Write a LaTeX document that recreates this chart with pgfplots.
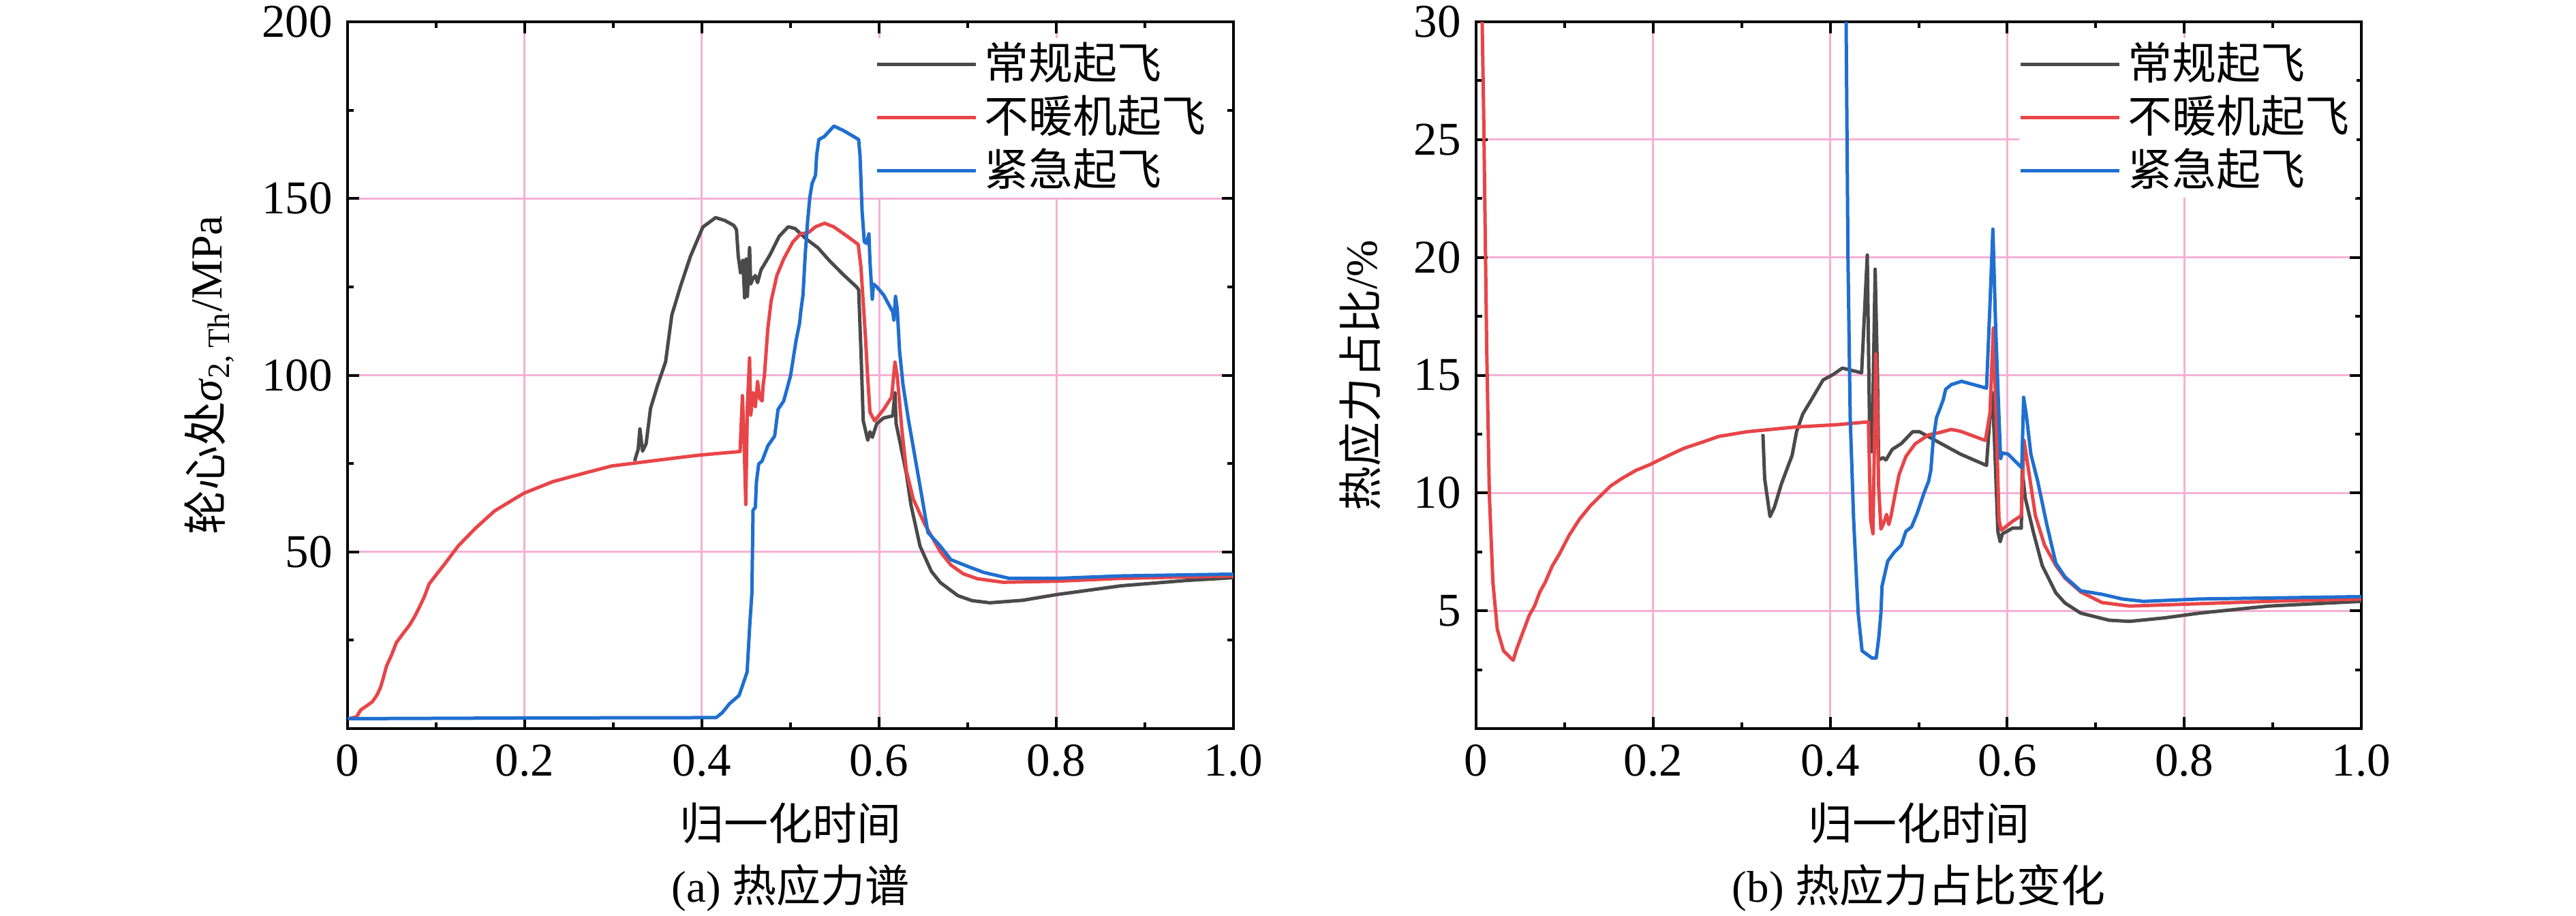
\documentclass[border=0pt]{standalone}
\usepackage{pgfplots}
\pgfplotsset{compat=1.18}
\usepackage{fontspec}
\setmainfont{Liberation Serif}
\newfontfamily\tnr{Liberation Serif}
\newfontfamily\cjk{Noto Sans CJK SC}
\definecolor{cblack}{RGB}{74,74,74}
\definecolor{cred}{RGB}{232,69,72}
\definecolor{cblue}{RGB}{31,111,208}
\definecolor{gridpink}{RGB}{246,176,214}
\pgfplotsset{
  mybase/.style={
    scale only axis,
    width=260pt, height=207.4pt,
    xmin=0, xmax=1,
    xtick={0,0.2,0.4,0.6,0.8,1.0},
    xticklabels={0,0.2,0.4,0.6,0.8,1.0},
    minor xtick={0.1,0.3,0.5,0.7,0.9},
    tick align=inside,
    xtick pos=both, ytick pos=both,
    major tick length=3.4pt, minor tick length=1.8pt,
    axis line style={line width=0.8pt, black},
    every tick/.style={black, line width=0.8pt},
    grid=major,
    major grid style={color=gridpink, line width=0.6pt},
    tick label style={font=\tnr\fontsize{13.8}{15}\selectfont},
    xticklabel style={yshift=-1.1pt},
    yticklabel style={xshift=-0.9pt},
    label style={font=\fontsize{13}{15}\selectfont},
    xlabel={\cjk 归一化时间},
    xlabel style={at={(axis description cs:0.5,-0.134)}, anchor=center},
    legend cell align=left,
    legend image code/.code={\draw[#1, line width=1pt] (0pt,0pt) -- (29pt,0pt);},
    every axis plot/.append style={line width=1pt, line join=round},
  },
  mylegend/.style={
    legend style={at={(axis description cs:#1,0.978)}, anchor=north east,
      draw=none, fill=white, inner xsep=0pt, inner ysep=0pt,
      font=\fontsize{13}{15}\selectfont\cjk,
      nodes={inner xsep=2pt, inner ysep=1.7pt, text height=10.4pt, text depth=1.8pt},
      column sep=0pt},
  },
}
\begin{document}
\begin{tikzpicture}
\path[use as bounding box] (0,0) rectangle (756pt,268.6pt);
% ---------------- (a) ----------------
\begin{axis}[mybase, mylegend=0.977,
  at={(102pt,54.8pt)}, anchor=south west,
  ymin=0, ymax=200,
  ytick={50,100,150,200}, yticklabels={50,100,150,200},
  minor ytick={25,75,125,175},
  ylabel={{\cjk 轮心处}\textit{σ}\textsubscript{2, Th}/MPa},
  ylabel style={at={(axis description cs:-0.156,0.5)}, anchor=center},
]
\addplot[cblack] coordinates {
(0.324,75.7)(0.328,79)(0.330,84.8)(0.333,78.5)(0.337,80.6)(0.342,90.6)(0.350,97.2)
(0.359,103.8)(0.366,117)(0.376,125.3)(0.387,133.6)(0.401,141.9)(0.4154,144.6)
(0.4256,143.8)(0.4359,142.4)(0.4390,141.2)(0.4410,133.7)(0.4436,129)(0.4462,132.5)
(0.4482,121.9)(0.4500,132.9)(0.4513,122.3)(0.4538,136.1)(0.4551,125.8)(0.4577,127.4)
(0.4603,128.2)(0.4628,126.2)(0.4667,129.8)(0.4769,134.1)(0.4872,139.3)(0.4974,142)
(0.5051,141.5)(0.5179,138.5)(0.5308,136.1)(0.5436,132.5)(0.5590,128.6)(0.5744,125)
(0.5769,124.2)(0.5795,106.9)(0.5821,87.1)(0.5846,84.4)(0.5872,81.6)(0.5897,84)
(0.5923,82.4)(0.5974,86.3)(0.6051,87.9)(0.6154,88.5)(0.6179,95)(0.6192,86.3)
(0.6231,81.6)(0.6308,72.1)(0.6359,63.4)(0.6462,51.6)(0.6590,44.5)(0.6692,41.3)
(0.689,37.6)(0.705,36.2)(0.725,35.6)(0.762,36.3)(0.800,37.9)(0.873,40.4)(0.946,41.9)
(1.000,42.7)
};
\addplot[cred] coordinates {
(0.003,2.9)(0.010,3.3)(0.015,5.3)(0.022,6.5)(0.028,7.6)(0.033,9.4)(0.037,11.5)
(0.040,14)(0.044,17.7)(0.050,21)(0.055,24.3)(0.063,27)(0.070,29.3)(0.076,31.8)
(0.081,34.3)(0.087,37.5)(0.092,40.9)(0.100,43.5)(0.110,46.7)(0.125,51.7)(0.144,56.6)
(0.166,61.6)(0.199,66.6)(0.232,69.9)(0.269,72.4)(0.298,74.3)(0.342,75.7)(0.394,77.3)
(0.4154,77.8)(0.4431,78.4)(0.4457,94.2)(0.4474,83.2)(0.4495,63.4)(0.4513,91.1)
(0.4538,104.9)(0.4551,88.7)(0.4577,95)(0.4603,91.1)(0.4628,98.2)(0.4654,93.4)
(0.4679,92.7)(0.4692,97.4)(0.4705,99.8)(0.4744,113.2)(0.4782,121.1)(0.4846,128.2)
(0.4923,132.9)(0.5026,137.7)(0.5115,140)(0.5205,140.4)(0.5282,142)(0.5385,143)
(0.5487,142)(0.5641,139.3)(0.5764,137)(0.5795,130.6)(0.5846,110.8)(0.5872,99)
(0.5897,89.5)(0.5949,87.1)(0.6051,90.3)(0.6141,93.8)(0.6179,103.7)(0.6205,99.8)
(0.6256,84.8)(0.6308,72.9)(0.6385,65)(0.6513,57.9)(0.6692,50)(0.681,46.3)(0.695,43.8)
(0.711,42.4)(0.740,41.4)(0.800,41.7)(0.873,42.5)(1.000,43.2)
};
\addplot[cblue] coordinates {
(0.000,2.8)(0.200,3.0)(0.416,3.1)(0.423,4.5)(0.431,7)(0.442,9.4)(0.451,16)
(0.454,29.3)(0.4564,38.3)(0.4577,61.8)(0.4603,62.6)(0.4615,69.7)(0.4641,74.9)
(0.4679,75.7)(0.4744,80)(0.4821,82.8)(0.4859,90.3)(0.4923,92.7)(0.5,99.8)(0.5064,110)
(0.5103,114.8)(0.5115,117.9)(0.5141,122.7)(0.5167,134.5)(0.5192,143.2)(0.5218,150.3)
(0.5244,154.3)(0.5282,156.6)(0.5295,162.2)(0.532,166.7)(0.538,167.5)(0.549,170.5)
(0.560,169.2)(0.5769,166.7)(0.5785,162)(0.5808,146.4)(0.5833,137.7)(0.5859,137.3)
(0.5885,140)(0.5897,132.1)(0.5923,121.5)(0.5936,125.8)(0.5974,125)(0.6051,122.7)
(0.6154,117.9)(0.6167,115.6)(0.6185,122.3)(0.6205,118.7)(0.6231,106.9)(0.6269,97.4)
(0.6333,87.1)(0.6410,76.1)(0.6487,65)(0.6551,55.5)(0.6692,51.6)(0.681,47.8)
(0.700,45.9)(0.718,44.2)(0.747,42.5)(0.800,42.5)(0.873,43.2)(1.000,43.7)
};
\legend{常规起飞,不暖机起飞,紧急起飞}
\end{axis}
% ---------------- (b) ----------------
\begin{axis}[mybase, mylegend=0.995,
  at={(433.2pt,54.8pt)}, anchor=south west, width=259.8pt,
  ymin=0, ymax=30,
  ytick={5,10,15,20,25,30}, yticklabels={5,10,15,20,25,30},
  minor ytick={2.5,7.5,12.5,17.5,22.5,27.5},
  ylabel={{\cjk 热应力占比}/\%},
  ylabel style={at={(axis description cs:-0.131,0.5)}, anchor=center},
]
\addplot[cblack] coordinates {
(0.324,12.5)(0.326,10.6)(0.332,9.0)(0.337,9.4)(0.345,10.4)(0.357,11.6)(0.362,12.6)
(0.369,13.35)(0.381,14.1)(0.392,14.8)(0.4034,15.03)(0.4137,15.3)(0.4355,15.1)
(0.4419,20.1)(0.4444,13)(0.4470,11.75)(0.4483,14)(0.4508,19.5)(0.4534,15)(0.4547,11.4)
(0.4598,11.5)(0.4629,11.4)(0.4701,11.85)(0.4804,12.1)(0.4932,12.6)(0.5009,12.6)
(0.5188,12.23)(0.5471,11.65)(0.5766,11.17)(0.5805,13.3)(0.5831,14.26)(0.5856,12.2)
(0.5894,8.37)(0.5920,7.93)(0.5946,8.27)(0.6061,8.51)(0.6159,8.51)(0.6169,10.97)
(0.6203,9.8)(0.6293,8.37)(0.6395,6.92)(0.6549,5.76)(0.6652,5.33)(0.683,4.9)(0.715,4.6)
(0.738,4.55)(0.778,4.7)(0.817,4.9)(0.895,5.2)(1.000,5.4)
};
\addplot[cred] coordinates {
(0.006,32)(0.0086,26)(0.012,16.1)(0.015,9.9)(0.019,6.2)(0.024,4.2)(0.031,3.3)
(0.039,3.0)(0.042,2.9)(0.046,3.4)(0.054,4.2)(0.060,4.8)(0.066,5.2)(0.072,5.8)
(0.078,6.2)(0.086,6.9)(0.094,7.4)(0.105,8.2)(0.117,8.9)(0.129,9.45)(0.141,9.9)
(0.152,10.3)(0.164,10.6)(0.180,10.95)(0.196,11.2)(0.215,11.55)(0.235,11.9)
(0.255,12.15)(0.274,12.4)(0.306,12.6)(0.361,12.8)(0.408,12.9)(0.4432,13.02)
(0.4457,8.85)(0.4483,8.27)(0.4516,15.9)(0.4534,13.2)(0.4547,10.3)(0.4573,8.47)
(0.4598,8.66)(0.4637,9.09)(0.4662,8.66)(0.4688,9.04)(0.4727,9.82)(0.4778,10.78)
(0.4855,11.55)(0.4958,12.08)(0.5112,12.47)(0.5240,12.57)(0.5368,12.7)(0.5471,12.62)
(0.5753,12.23)(0.5805,13.39)(0.5843,17)(0.5882,12.23)(0.5907,8.85)(0.5933,8.42)
(0.6061,8.8)(0.6159,9.04)(0.6190,12.23)(0.6241,10.97)(0.6318,9.04)(0.6421,7.79)
(0.6549,6.92)(0.6652,6.39)(0.683,5.8)(0.707,5.35)(0.738,5.2)(0.817,5.3)(0.895,5.4)
(1.000,5.5)
};
\addplot[cblue] coordinates {
(0.4175,32)(0.418,30)(0.4201,19.95)(0.4226,13.2)(0.4265,8.85)(0.4316,4.9)(0.436,3.3)
(0.447,3.0)(0.452,3.0)(0.455,3.9)(0.4573,4.9)(0.4586,6.05)(0.4650,7.11)(0.4727,7.5)
(0.4804,7.79)(0.4855,8.37)(0.4919,8.56)(0.4983,9.14)(0.5060,10.0)(0.5112,10.5)
(0.5137,10.97)(0.5163,12.23)(0.5201,13.2)(0.5240,13.58)(0.5278,13.97)(0.5304,14.4)
(0.5368,14.6)(0.5484,14.74)(0.5766,14.45)(0.5805,18.0)(0.5838,21.2)(0.5869,17.05)
(0.5907,13.2)(0.5925,11.46)(0.5946,11.7)(0.6010,11.65)(0.6164,11.07)(0.6185,14.06)
(0.6216,13.3)(0.6267,11.65)(0.6344,10.5)(0.6447,8.66)(0.6549,7.02)(0.6652,6.44)
(0.683,5.85)(0.707,5.7)(0.730,5.5)(0.754,5.4)(0.817,5.5)(1.000,5.6)
};
\legend{常规起飞,不暖机起飞,紧急起飞}
\end{axis}
\node[font=\fontsize{13}{15}\selectfont, anchor=center] at (232pt,8pt) {(a) {\cjk 热应力谱}};
\node[font=\fontsize{13}{15}\selectfont, anchor=center] at (563.1pt,8pt) {(b) {\cjk 热应力占比变化}};
\end{tikzpicture}
\end{document}
